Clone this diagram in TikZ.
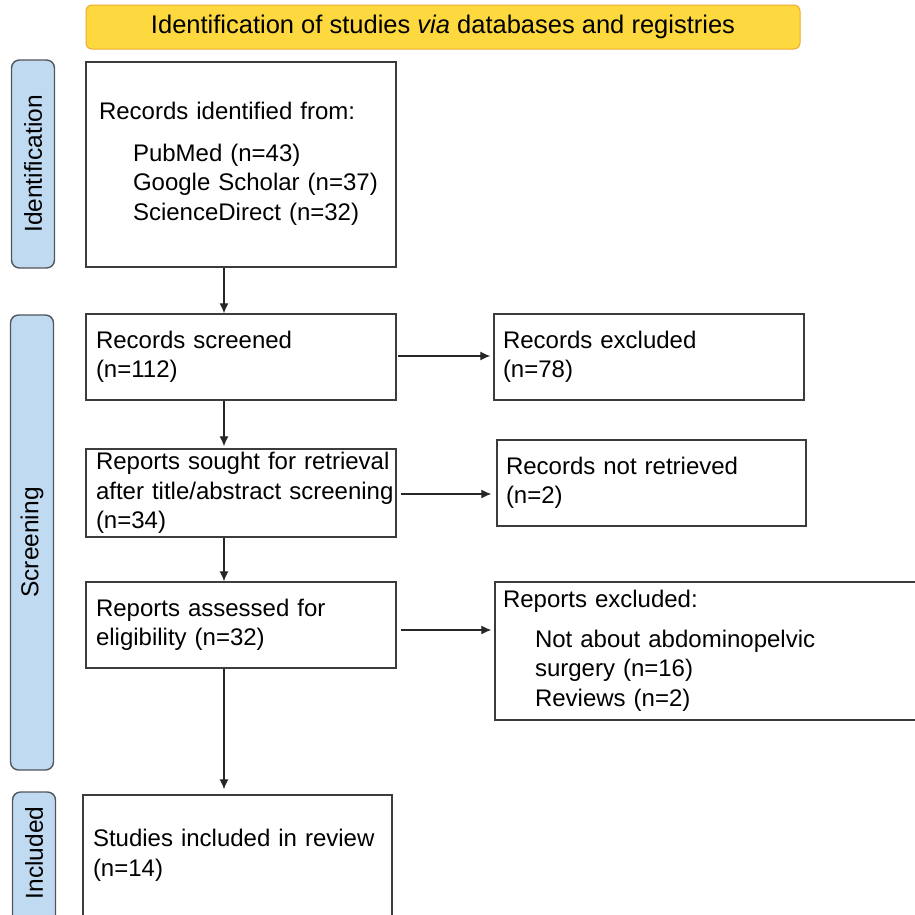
\documentclass[tikz,border=0pt]{standalone}
\usepackage{fontspec}
\setmainfont{Liberation Sans}
\usetikzlibrary{arrows.meta, positioning}
\definecolor{titlefill}{HTML}{FDD93F}
\definecolor{titledraw}{HTML}{EEAA2E}
\definecolor{sidefill}{HTML}{C0DAF2}
\definecolor{sidedraw}{HTML}{50565C}
\definecolor{boxdraw}{HTML}{3C3C3C}

\tikzset{
  box/.style={draw=boxdraw, line width=1.4pt, fill=white, minimum height=86pt,
    text width=290pt, inner xsep=10pt, align=left,
    font=\fontsize{24}{29.5}\selectfont},
  sidebox/.style={draw=sidedraw, line width=1.4pt, fill=sidefill, rounded corners=8pt,
    minimum height=43pt, rotate=90, inner sep=0pt,
    font=\fontsize{24.5}{29}\selectfont},
  arr/.style={-{Latex[length=10pt,width=9pt]}, line width=1.2pt, black!85}
}

\begin{document}
\begin{tikzpicture}[x=1pt, y=-1pt]
\useasboundingbox (0,0) rectangle (915,914);

% 見出し
\node[draw=titledraw, line width=1pt, fill=titlefill, rounded corners=6pt,
  minimum width=714pt, minimum height=44pt, font=\fontsize{25.5}{29}\selectfont]
  (title) at (443,27) {Identification of studies \textit{via} databases and registries};

% 左の段
\node[sidebox, minimum width=208pt] (sideident) at (33,164) {Identification};
\node[sidebox, minimum width=455pt] (sidescreen) at (32,542.5) {Screening};
\node[sidebox, minimum width=140pt] (sideincl) at (34,862) {\hspace*{18pt}Included};

% 本流の箱
\node[box, minimum height=205pt, text width=284pt, inner xsep=13pt] (ident) at (241,164.5)
  {Records identified from:\\[12pt]
   \hspace*{34pt}PubMed (n=43)\\
   \hspace*{34pt}Google Scholar (n=37)\\
   \hspace*{34pt}ScienceDirect (n=32)\\[-23.5pt]\mbox{}};
\node[box] (screened) at (241,357) {Records screened\\(n=112)};
\node[box] (sought) at (241,493)
  {\mbox{Reports sought for retrieval}\\\mbox{after title/abstract screening}\\(n=34)};
\node[box] (assessed) at (241,625) {Reports assessed for\\eligibility (n=32)};
\node[box, minimum height=130pt, text width=289pt] (included) at (237.5,860)
  {Studies included in review\\(n=14)\\[-15pt]\mbox{}};

% 除外の箱
\node[box, inner xsep=9pt, text width=292pt] (excluded) at (649,357)
  {Records excluded\\(n=78)};
\node[box, inner xsep=9pt, text width=291pt] (notret) at (651.5,483)
  {Records not retrieved\\(n=2)};
\node[box, minimum height=138pt, inner xsep=8pt, text width=424pt] (repexcl) at (715,651)
  {Reports excluded:\\[10pt]
   \hspace*{32pt}Not about abdominopelvic\\
   \hspace*{32pt}surgery (n=16)\\
   \hspace*{32pt}Reviews (n=2)};

% 矢印
\coordinate (spine) at (224,0);
\draw[arr] (ident.south -| spine) -- (screened.north -| spine);
\draw[arr] (screened.south -| spine) -- ([yshift=2pt]sought.north -| spine);
\draw[arr] (sought.south -| spine) -- (assessed.north -| spine);
\draw[arr] (assessed.south -| spine) -- ([yshift=5pt]included.north -| spine);

\coordinate (scrout) at ([yshift=1pt]screened.east);
\coordinate (sghout) at ([yshift=-1pt]sought.east);
\coordinate (assout) at ([yshift=-5pt]assessed.east);
\draw[arr, shorten <=1pt, shorten >=3pt] (scrout) -- (excluded.west |- scrout);
\draw[arr, shorten <=4pt, shorten >=5pt] (sghout) -- (notret.west |- sghout);
\draw[arr, shorten <=4pt, shorten >=3pt] (assout) -- (repexcl.west |- assout);

\end{tikzpicture}
\end{document}
